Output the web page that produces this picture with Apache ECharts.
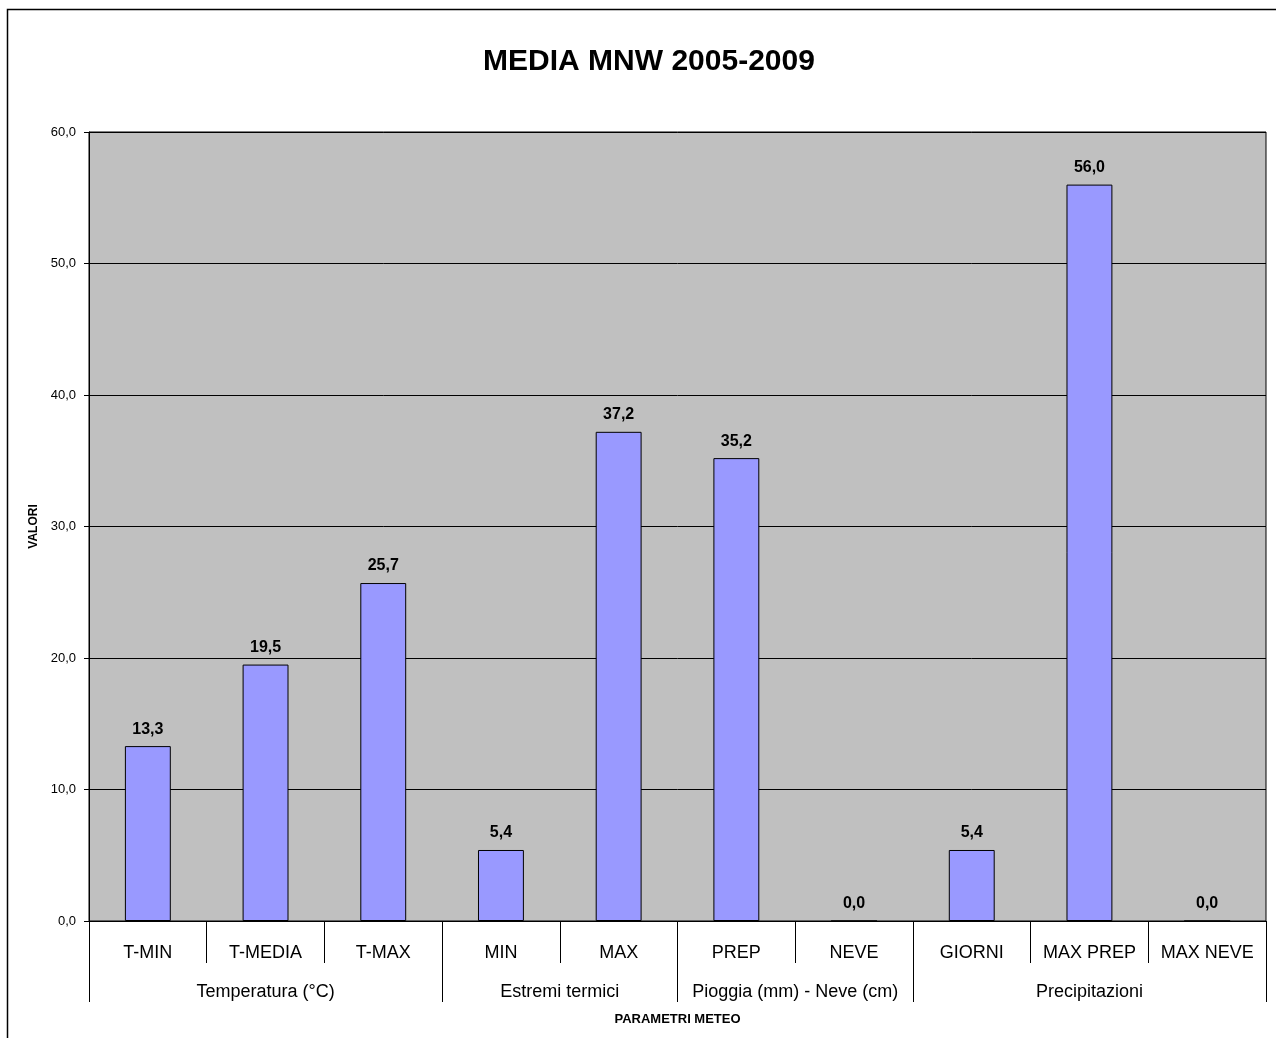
<!DOCTYPE html>
<html>
<head>
<meta charset="utf-8">
<title>MEDIA MNW 2005-2009</title>
<script src="https://cdn.jsdelivr.net/npm/echarts@6/dist/echarts.min.js"></script>
<style>
  html, body { margin: 0; padding: 0; background: #fff; }
  #chart { width: 1276px; height: 1038px; }
</style>
</head>
<body>
<div id="chart"></div>
<script>
// Parameters and their mean values
const categories = ['T-MIN', 'T-MEDIA', 'T-MAX', 'MIN', 'MAX', 'PREP', 'NEVE', 'GIORNI', 'MAX PREP', 'MAX NEVE'];
const values = [13.3, 19.5, 25.7, 5.4, 37.2, 35.2, 0.0, 5.4, 56.0, 0.0];

// Parameter groups (second row of the category axis) and how many parameters each spans
const groups = ['Temperatura (°C)', 'Estremi termici', 'Pioggia (mm) - Neve (cm)', 'Precipitazioni'];
const groupSizes = [3, 2, 2, 3];

// Value axis range
const yMin = 0;
const yMax = 60;
const yStep = 10;

const FONT = "'Liberation Sans', Arial, sans-serif";
const fmt = v => v.toFixed(1).replace('.', ',');

// Group row: half-category slots so each group name sits at its span centre
const slotLabels = new Array(categories.length * 2 + 1).fill('');
const boundarySlots = [];
let start = 0;
groups.forEach((g, i) => {
  boundarySlots.push(start * 2);
  slotLabels[start * 2 + groupSizes[i]] = g;
  start += groupSizes[i];
});
boundarySlots.push(start * 2);

const chart = echarts.init(document.getElementById('chart'), null, { renderer: 'canvas' });

chart.setOption({
  animation: false,
  backgroundColor: '#ffffff',
  textStyle: { fontFamily: FONT },
  title: {
    text: 'MEDIA MNW 2005-2009',
    left: 644,
    textAlign: 'center',
    top: 42,
    textStyle: { fontFamily: FONT, fontSize: 30, fontWeight: 'bold', color: '#000' }
  },
  graphic: [{
    type: 'rect',
    shape: { x: 7.5, y: 9.5, width: 1400, height: 1200 },
    style: { fill: null, stroke: '#000', lineWidth: 1.5 },
    silent: true,
    z: -1
  }],
  grid: {
    left: 89, right: 10, top: 132, bottom: 117,
    show: true,
    backgroundColor: '#C0C0C0',
    borderColor: '#000',
    borderWidth: 1,
    containLabel: false
  },
  xAxis: [{
    type: 'category',
    data: categories,
    position: 'bottom',
    boundaryGap: true,
    axisLine: { show: true, lineStyle: { color: '#000', width: 1 } },
    axisTick: { show: true, length: 42, lineStyle: { color: '#000', width: 1 } },
    axisLabel: { interval: 0, margin: 23, fontSize: 18, color: '#000', fontFamily: FONT },
    splitLine: { show: false }
  }, {
    type: 'category',
    data: slotLabels,
    position: 'bottom',
    boundaryGap: false,
    axisLine: { show: false },
    axisTick: {
      show: true,
      length: 81,
      interval: idx => boundarySlots.indexOf(idx) !== -1,
      lineStyle: { color: '#000', width: 1 }
    },
    axisLabel: { interval: 0, margin: 62, fontSize: 18, color: '#000', fontFamily: FONT },
    splitLine: { show: false },
    name: 'PARAMETRI METEO',
    nameLocation: 'middle',
    nameGap: 92,
    nameTextStyle: { fontFamily: FONT, fontSize: 13, fontWeight: 'bold', color: '#000' }
  }],
  yAxis: {
    type: 'value',
    min: yMin,
    max: yMax,
    interval: yStep,
    axisLine: { show: true, lineStyle: { color: '#000', width: 1 } },
    axisTick: { show: true, inside: false, length: 5, lineStyle: { color: '#000' } },
    axisLabel: { formatter: fmt, fontSize: 13, color: '#000', margin: 13, fontFamily: FONT },
    splitLine: { show: true, lineStyle: { color: '#000', width: 1 } },
    name: 'VALORI',
    nameLocation: 'middle',
    nameRotate: 90,
    nameGap: 48,
    nameTextStyle: { fontFamily: FONT, fontSize: 12, fontWeight: 'bold', color: '#000' }
  },
  series: [{
    type: 'bar',
    xAxisIndex: 0,
    data: values,
    barWidth: '39%',
    itemStyle: { color: '#9999FF', borderColor: '#000', borderWidth: 1 },
    label: {
      show: true,
      position: 'top',
      distance: 9,
      formatter: p => fmt(p.value),
      fontFamily: FONT,
      fontSize: 16,
      fontWeight: 'bold',
      color: '#000'
    }
  }]
});
</script>
</body>
</html>
